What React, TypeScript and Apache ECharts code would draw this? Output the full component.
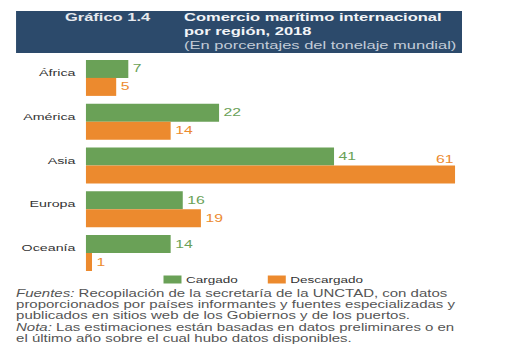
import React, { useEffect, useRef } from "react";
import * as echarts from "echarts";

const categories = ["África", "América", "Asia", "Europa", "Oceanía"];
const cargado = [7, 22, 41, 16, 14];
const descargado = [5, 14, 61, 19, 1];
const seriesNames = ["Cargado", "Descargado"];
const headerLabel = "Gráfico 1.4";
const titleLines = ["Comercio marítimo internacional", "por región, 2018"];
const subtitle = "(En porcentajes del tonelaje mundial)";
const footerLines = [
  "{i|Fuentes:} Recopilación de la secretaría de la UNCTAD, con datos",
  "proporcionados por países informantes y fuentes especializadas y",
  "publicados en sitios web de los Gobiernos y de los puertos.",
];
const noteLines = [
  "{i|Nota:} Las estimaciones están basadas en datos preliminares o en",
  "el último año sobre el cual hubo datos disponibles.",
];

const SX = 1.5;
const W = 341;
const H = 356;
const FONT = "'Liberation Sans', Arial, Helvetica, sans-serif";
const GREEN = "#6aa157";
const ORANGE = "#ec8a2e";
const NAVY = "#2c4a6b";
const FOOT_SIZE = 10;

export default function App() {
  const ref = useRef<HTMLDivElement>(null);
  useEffect(() => {
    document.body.style.margin = "0";
    const chart = echarts.init(ref.current!, undefined, { renderer: "svg" });
    const footStyle = (text: string) => ({
      text,
      fontSize: FOOT_SIZE,
      lineHeight: 11,
      fontFamily: FONT,
      fill: "#555",
      rich: {
        i: { fontStyle: "italic", fontSize: FOOT_SIZE, lineHeight: 11, fontFamily: FONT, fill: "#555" },
      },
    });

    chart.setOption({
      animation: false,
      textStyle: { fontFamily: FONT },
      graphic: [
        {
          type: "rect",
          shape: { x: 10.7, y: 11, width: 297.3, height: 42 },
          style: { fill: NAVY },
        },
        {
          type: "text",
          left: 43.3,
          top: 12,
          style: { text: headerLabel, fontSize: 11, fontWeight: "bold", fontFamily: FONT, fill: "#e6e9ee" },
        },
        {
          type: "text",
          left: 122.7,
          top: 12,
          style: { text: titleLines[0], fontSize: 11, fontWeight: "bold", fontFamily: FONT, fill: "#f2f4f7" },
        },
        {
          type: "text",
          left: 122.7,
          top: 26,
          style: { text: titleLines[1], fontSize: 11, fontWeight: "bold", fontFamily: FONT, fill: "#f2f4f7" },
        },
        {
          type: "text",
          left: 122.7,
          top: 40,
          style: { text: subtitle, fontSize: 11, fontFamily: FONT, fill: "#c3ccd8" },
        },
        {
          type: "text",
          left: 10.7,
          top: 288,
          style: footStyle(footerLines.join("\n")),
        },
        {
          type: "text",
          left: 10.7,
          top: 321.5,
          style: footStyle(noteLines.join("\n")),
        },
      ],
      legend: {
        data: seriesNames,
        left: 109,
        top: 275,
        padding: 0,
        itemWidth: 12,
        itemHeight: 8,
        itemGap: 20,
        icon: "rect",
        textStyle: { fontSize: 9, color: "#333", fontFamily: FONT, padding: [0, 0, 0, -2] },
      },
      grid: { left: 57.3, top: 56, bottom: 81, right: 21.5, containLabel: false },
      xAxis: {
        type: "value",
        min: 0,
        max: 65,
        show: false,
      },
      yAxis: {
        type: "category",
        data: categories,
        inverse: true,
        axisLine: { show: false },
        axisTick: { show: false },
        axisLabel: {
          fontSize: 9.5,
          color: "#333",
          margin: 7,
          fontFamily: FONT,
          verticalAlign: "bottom",
        },
      },
      series: [
        {
          name: seriesNames[0],
          type: "bar",
          data: cargado,
          barWidth: 18,
          barGap: "0%",
          itemStyle: { color: GREEN },
          label: {
            show: true,
            position: "right",
            distance: 3,
            color: GREEN,
            fontSize: 10.5,
            fontFamily: FONT,
          },
        },
        {
          name: seriesNames[1],
          type: "bar",
          data: descargado.map((v, i) =>
            categories[i] === "Asia"
              ? {
                  value: v,
                  label: {
                    position: ["100%", 0],
                    align: "right",
                    verticalAlign: "bottom",
                    offset: [-1, -1],
                  },
                }
              : v
          ),
          barWidth: 18,
          barGap: "0%",
          itemStyle: { color: ORANGE },
          label: {
            show: true,
            position: "right",
            distance: 3,
            color: ORANGE,
            fontSize: 10.5,
            fontFamily: FONT,
          },
        },
      ],
    });
    return () => chart.dispose();
  }, []);
  return (
    <div style={{ position: "fixed", left: 0, top: 0, width: 511, height: H, overflow: "hidden", background: "#fff" }}>
      <div
        ref={ref}
        style={{ width: W, height: H, transform: `scaleX(${SX})`, transformOrigin: "0 0" }}
      />
    </div>
  );
}
